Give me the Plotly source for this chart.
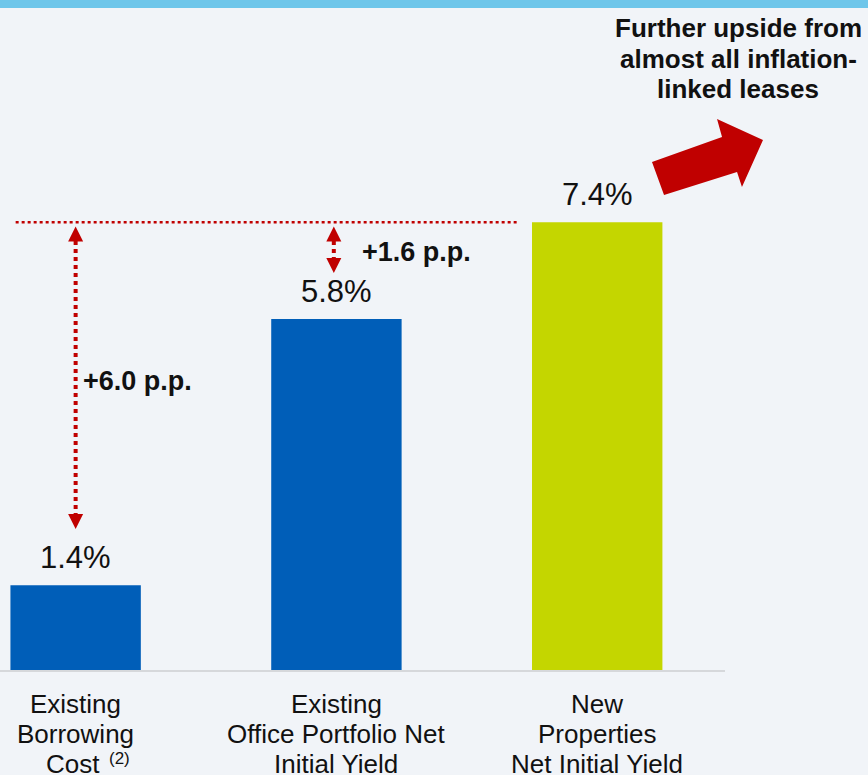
import plotly.graph_objects as go

# --- data ---------------------------------------------------------------
category_lines = [
    ["Existing", "Borrowing", "Cost"],
    ["Existing", "Office Portfolio Net", "Initial Yield"],
    ["New", "Properties", "Net Initial Yield"],
]
footnote_mark = "(2)"
values = [1.4, 5.8, 7.4]
value_labels = ["1.4%", "5.8%", "7.4%"]
bar_colors = ["#005EB8", "#005EB8", "#C4D600"]
spread_labels = ["+6.0 p.p.", "+1.6 p.p."]
headline_lines = ["Further upside from", "almost all inflation-", "linked leases"]

# --- styling --------------------------------------------------------------
BG = "#F1F4F8"
RED = "#C00000"
BAND = "#6EC6EA"
FONT = "Liberation Sans, Arial, sans-serif"
TXT = "#111111"

W, H = 868, 775
M_L, M_R, M_T, M_B = 0, 143, 30, 105
PLOT_W = W - M_L - M_R
PLOT_H = H - M_T - M_B
PX_PER_UNIT = 60.5


def px(x, y):
    """Convert a page pixel position to paper coordinates."""
    return (x - M_L) / PLOT_W, (H - M_B - y) / PLOT_H


fig = go.Figure()

fig.add_trace(go.Bar(
    x=[0, 1, 2], y=values, width=0.5,
    marker=dict(color=bar_colors, line=dict(width=0)),
    hoverinfo="skip", showlegend=False,
))

# value labels above each bar
for i, (v, lab) in enumerate(zip(values, value_labels)):
    fig.add_annotation(x=i, y=v, text=lab, showarrow=False, xanchor="center",
                       yanchor="bottom", yshift=8,
                       font=dict(family=FONT, size=31, color=TXT))

# category labels under the axis, one annotation per line for tight leading
line_centres = [703.5, 733.5, 763.5]
for i, lines in enumerate(category_lines):
    for j, (line, ycen) in enumerate(zip(lines, line_centres)):
        _, ly = px(0, ycen)
        footnoted = (i == 0 and j == 2)
        fig.add_annotation(x=i, xref="x", yref="paper", y=ly, text=line,
                           showarrow=False,
                           xanchor="right" if footnoted else "center",
                           xshift=26.5 if footnoted else 0, yanchor="middle",
                           font=dict(family=FONT, size=26, color=TXT))
        if footnoted:
            _, fy = px(0, ycen - 5)
            fig.add_annotation(x=i, xref="x", yref="paper", y=fy, text=footnote_mark,
                               showarrow=False, xanchor="left", xshift=31,
                               yanchor="middle",
                               font=dict(family=FONT, size=17, color=TXT))

top = values[2]
gap = 0.07  # small clearance between arrowheads and the reference line

# dotted reference line at the new-property yield
fig.add_shape(type="line", xref="x", yref="y", x0=-0.23, x1=1.70, y0=top, y1=top,
              line=dict(color=RED, width=2.5, dash="dot"))

# double-headed spread arrows: (x position, lower tip, upper tip)
arrows = [
    (0.0, values[0] + 0.93, top - gap),
    (0.99, values[1] + 0.76, top - gap),
]
for xa, lo, hi in arrows:
    fig.add_trace(go.Scatter(
        x=[xa, xa], y=[lo + 0.2, hi - 0.2], mode="lines",
        line=dict(color=RED, width=4, dash="dot"),
        hoverinfo="skip", showlegend=False,
    ))
    fig.add_trace(go.Scatter(
        x=[xa, xa], y=[hi, lo], mode="markers",
        marker=dict(symbol=["arrow-up", "arrow-down"], size=15, color=RED,
                    line=dict(width=0)),
        hoverinfo="skip", showlegend=False,
    ))

fig.add_annotation(x=0, y=4.78, text="<b>%s</b>" % spread_labels[0], showarrow=False,
                   xanchor="left", yanchor="middle", xshift=5,
                   font=dict(family=FONT, size=27, color=TXT))
fig.add_annotation(x=0.99, y=6.91, text="<b>%s</b>" % spread_labels[1], showarrow=False,
                   xanchor="left", yanchor="middle", xshift=26,
                   font=dict(family=FONT, size=27, color=TXT))

# headline in the top-right corner, one annotation per line for tight leading
for line, ycen in zip(headline_lines, [28, 58.5, 89]):
    hx, hy = px(738, ycen)
    fig.add_annotation(xref="paper", yref="paper", x=hx, y=hy, text="<b>%s</b>" % line,
                       showarrow=False, xanchor="center", yanchor="middle",
                       font=dict(family=FONT, size=26, color=TXT))

# thick block arrow pointing up and to the right
pts = [(652, 162), (722, 137), (717, 119), (763, 140), (742, 187), (737, 172), (664, 195)]
path = "M " + " L ".join("%.4f,%.4f" % px(x, y) for x, y in pts) + " Z"
fig.add_shape(type="path", xref="paper", yref="paper", path=path,
              fillcolor=RED, line=dict(width=0))

# light blue band along the top edge
x0, y0 = px(0, 0)
x1, y1 = px(W, 8)
fig.add_shape(type="rect", xref="paper", yref="paper", x0=x0, x1=x1, y0=y1, y1=y0,
              fillcolor=BAND, line=dict(width=0), layer="below")

fig.update_layout(
    width=W, height=H,
    margin=dict(l=M_L, r=M_R, t=M_T, b=M_B, pad=0, autoexpand=False),
    paper_bgcolor=BG, plot_bgcolor=BG,
    bargap=0.5,
    xaxis=dict(
        range=[-0.29, 2.49], tickmode="array", tickvals=[0, 1, 2],
        showticklabels=False, showgrid=False, zeroline=False,
        showline=True, linecolor="#D6D8DB", linewidth=2,
        ticks="", automargin=False, fixedrange=True,
    ),
    yaxis=dict(range=[0, PLOT_H / PX_PER_UNIT], visible=False, fixedrange=True),
)

fig.write_html("out.html")
